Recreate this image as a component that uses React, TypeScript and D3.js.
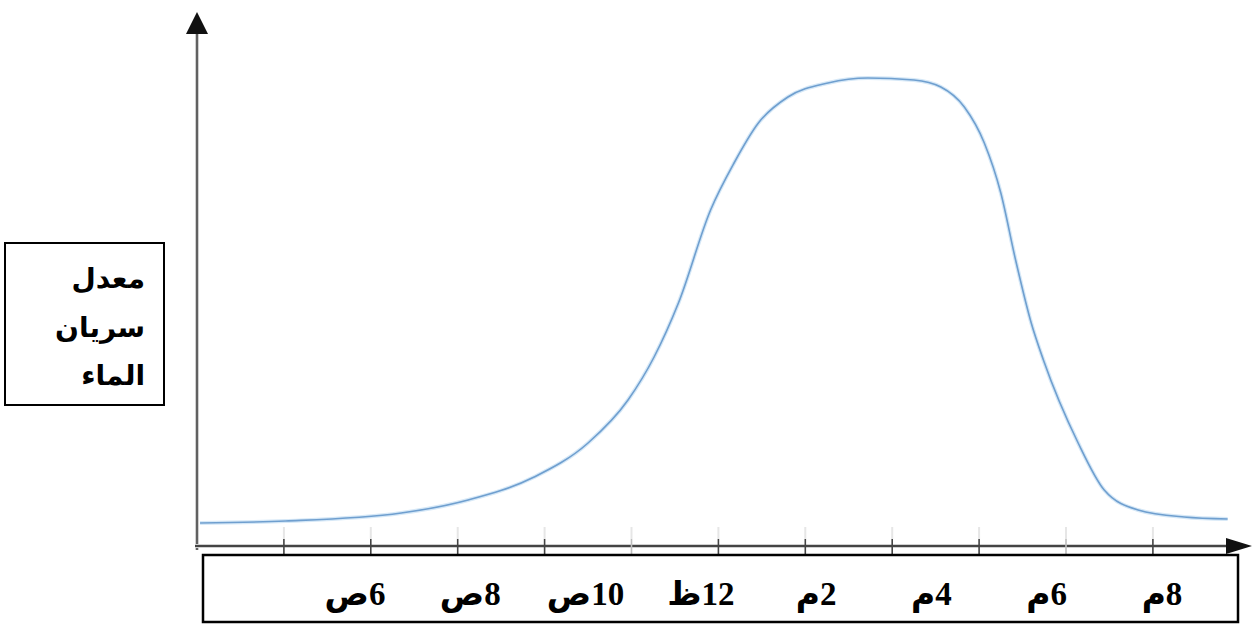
import React from 'react';
import * as d3 from 'd3';

// ---- data ----
const tickIndices = [1, 2, 3, 4, 5, 6, 7, 8, 9, 10, 11];
const lightTicks = [5, 10];
const timeLabels = ['6ص', '8ص', '10ص', '12ظ', '2م', '4م', '6م', '8م'];
const yTitleLines = ['معدل', 'سريان', 'الماء'];
const flowX = [0.035, 1.02, 2.35, 3.12, 3.88, 4.5, 4.96, 5.26, 5.54, 5.91, 6.18, 6.46, 6.8, 7.26, 7.72, 8.25, 8.56, 8.83, 9.06, 9.25, 9.42, 9.6, 9.74, 10.14, 10.44, 10.83, 11.36, 11.86];
const flowY = [4.4, 4.8, 6.4, 9.0, 13.6, 20.4, 29.0, 37.6, 48.4, 67.0, 76.4, 84.4, 89.6, 92.4, 93.4, 93.0, 91.6, 87.6, 80.4, 70.4, 57.0, 44.4, 37.0, 20.4, 11.0, 7.0, 5.6, 5.2];

export default function App() {
  const W = 1254;
  const H = 627;
  const x = d3.scaleLinear().domain([0, 11]).range([197, 197 + 86.9 * 11]);
  const y = d3.scaleLinear().domain([0, 100]).range([545, 45]);
  const labelX = d3.scalePoint<string>().domain(timeLabels).range([355, 1162]);

  const pts = flowX.map((v, i) => [v, flowY[i]] as [number, number]);
  const line = d3
    .line<[number, number]>()
    .x((d) => x(d[0]))
    .y((d) => y(d[1]))
    .curve(d3.curveMonotoneX);

  const axisY = 546;
  const yAxisX = x(0);

  return (
    <svg
      width={W}
      height={H}
      style={{ position: 'absolute', left: 0, top: 0, background: '#fff' }}
    >
      <rect x={0} y={0} width={W} height={H} fill="#fff" />
      {/* faint marks above ticks */}
      {tickIndices.map((t) => (
        <line key={'f' + t} x1={x(t)} x2={x(t)} y1={527} y2={539} stroke="#e6e6e6" strokeWidth={2} />
      ))}
      {/* curve */}
      <path d={line(pts) || ''} fill="none" stroke="#d6e8f7" strokeWidth={4} />
      <path d={line(pts) || ''} fill="none" stroke="#6f9fcf" strokeWidth={1.6} />
      {/* y axis */}
      <line x1={yAxisX} x2={yAxisX} y1={30} y2={550} stroke="#d0d0d0" strokeWidth={4} />
      <line x1={yAxisX} x2={yAxisX} y1={30} y2={550} stroke="#555" strokeWidth={1.8} />
      <polygon
        points={`${yAxisX},12 ${yAxisX - 11},34 ${yAxisX + 11},34`}
        fill="#111"
      />
      {/* x axis */}
      <line x1={yAxisX - 2} x2={1230} y1={axisY} y2={axisY} stroke="#d0d0d0" strokeWidth={4} />
      <line x1={yAxisX - 2} x2={1230} y1={axisY} y2={axisY} stroke="#444" strokeWidth={1.8} />
      <polygon points={`1252,${axisY} 1226,${axisY - 8} 1226,${axisY + 8}`} fill="#111" />
      {tickIndices.map((t) => (
        <line
          key={'t' + t}
          x1={x(t)}
          x2={x(t)}
          y1={539}
          y2={554}
          stroke={lightTicks.includes(t) ? '#bdbdbd' : '#444'}
          strokeWidth={1.6}
        />
      ))}
      {/* x label box */}
      <rect x={203} y={555} width={1035} height={67} fill="#fff" stroke="#000" strokeWidth={2.5} />
      {timeLabels.map((l) => (
        <text
          key={l}
          x={labelX(l)}
          y={605}
          direction="rtl"
          textAnchor="middle"
          fontFamily="'Liberation Serif', 'Times New Roman', 'DejaVu Sans', serif"
          fontWeight="bold"
          fontSize={33}
          fill="#000"
        >
          {l}
        </text>
      ))}
      {/* y title box */}
      <rect x={5} y={243} width={159} height={162} fill="#fff" stroke="#000" strokeWidth={2} />
      {yTitleLines.map((l, i) => (
        <text
          key={l}
          x={145}
          y={288 + i * 48.5}
          direction="rtl"
          textAnchor="start"
          fontFamily="'Liberation Sans', Arial, 'DejaVu Sans', sans-serif"
          fontWeight="bold"
          fontSize={28}
          fill="#000"
        >
          {l}
        </text>
      ))}
    </svg>
  );
}
